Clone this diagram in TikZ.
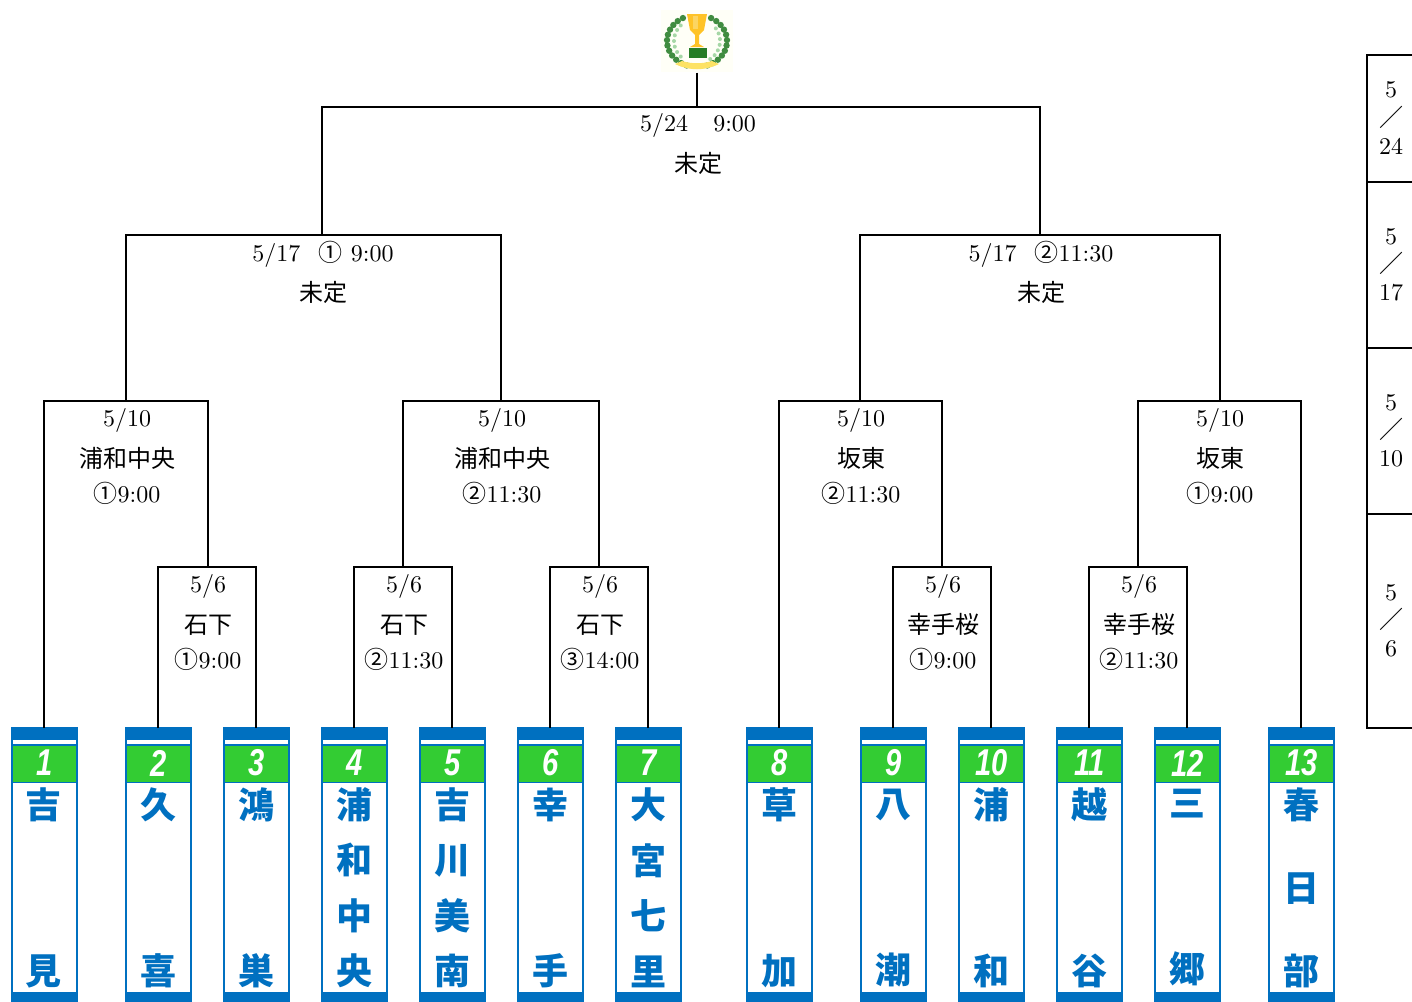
\documentclass[tikz,border=0pt]{standalone}
\usepackage{fontspec}
\usepackage{graphicx}
\newfontfamily\cjk{Noto Sans CJK JP}
\newfontfamily\cjkb{Noto Sans CJK JP}[BoldFont={Noto Sans CJK JP Black}]
\newfontfamily\numfont{Liberation Sans}
\definecolor{teamblue}{HTML}{0070C0}
\definecolor{teamgreen}{HTML}{33CC33}
\newcommand{\cjl}[1]{\raisebox{-.85pt}{\cjk #1}}
\newcommand{\teamcard}[4]{%
  \node[cardbox] (t#2) at (#1+.4,864) {};
  \fill[teamblue] (#1-33.1,727) rectangle (#1+33.9,740);
  \fill[teamblue] (#1-33.1,744) rectangle (#1+33.9,746);
  \fill[teamgreen] (#1-31.1,746) rectangle (#1+31.9,782);
  \draw[teamblue,line width=.9pt] (#1-31.6,782.5) -- (#1+32.4,782.5);
  \fill[teamblue] (#1-33.1,991.5) rectangle (#1+33.9,1001);
  \node[numlabel] (n#2) at (#1+.4,763) {\scalebox{.78}[1]{#2}};
  \node[teamname,font=\cjkb\bfseries\fontsize{27}{#4}\selectfont] (name#2) at (#1,887.6) {#3};
}
\tikzset{
  cardbox/.style={draw=teamblue,line width=1.5pt,fill=white,minimum width=65pt*.75,minimum height=273pt*.75,inner sep=0pt,outer sep=0pt},
  numlabel/.style={text=white,font=\numfont\bfseries\itshape\fontsize{28}{28}\selectfont,inner sep=0pt},
  teamname/.style={text=teamblue,align=center,inner sep=0pt},
  bracket/.style={line width=1.5pt,black},
  gamelabel/.style={align=center,inner sep=0pt,scale=1.8,font=\fontsize{10}{15.83}\selectfont},
  sidelabel/.style={align=center,inner sep=0pt,scale=1.8,font=\fontsize{10}{11.67}\selectfont},
  sideline/.style={line width=1.5pt,black},
  wreathdark/.style={fill=green!40!black!75!white},
  wreathlight/.style={fill=green!55!black!35!white}
}
\begin{document}
\begin{tikzpicture}[x=.75pt,y=-.75pt]
\useasboundingbox (0,0) rectangle (1412,1001);
% teams
\teamcard{44}{1}{吉\\見}{124.5}
\teamcard{158}{2}{久\\喜}{124.5}
\teamcard{256}{3}{鴻\\巣}{124.5}
\teamcard{354}{4}{浦\\和\\中\\央}{41.6}
\teamcard{452}{5}{吉\\川\\美\\南}{41.6}
\teamcard{550}{6}{幸\\手}{124.5}
\teamcard{648}{7}{大\\宮\\七\\里}{41.6}
\teamcard{779}{8}{草\\加}{124.5}
\teamcard{893}{9}{八\\潮}{124.5}
\teamcard{991}{10}{浦\\和}{124.5}
\teamcard{1089}{11}{越\\谷}{124.5}
\teamcard{1187}{12}{三\\郷}{124.5}
\teamcard{1301}{13}{春\\日\\部}{62.25}
% hubs
\coordinate (m1) at (208,567);
\coordinate (m2) at (403,567);
\coordinate (m3) at (599,567);
\coordinate (m4) at (942,567);
\coordinate (m5) at (1138,567);
\coordinate (q1) at (126,401);
\coordinate (q2) at (501,401);
\coordinate (q3) at (860,401);
\coordinate (q4) at (1220,401);
\coordinate (s1) at (322,235);
\coordinate (s2) at (1040,235);
\coordinate (f) at (697,107);
% trophy
\node[minimum width=54pt,minimum height=47pt,inner sep=0pt,fill=yellow!3] (trophy) at (697,41) {};
\foreach \a in {118,130,...,250}{\path[wreathdark] ({697+30*cos(\a)},{41-26*sin(\a)}) circle (3.2);}
\foreach \a in {-70,-58,...,62}{\path[wreathdark] ({697+30*cos(\a)},{41-26*sin(\a)}) circle (3.2);}
\foreach \a in {135,150,...,235}{\path[wreathlight] ({697+23*cos(\a)},{41-22*sin(\a)}) circle (2);}
\foreach \a in {-55,-40,...,45}{\path[wreathlight] ({697+23*cos(\a)},{41-22*sin(\a)}) circle (2);}
\fill[orange!55!yellow!85!white] (687,14) -- (707,14) -- (704,30) -- (699,35) -- (699,44) -- (704,47) -- (690,47) -- (695,44) -- (695,35) -- (690,30) -- cycle;
\fill[yellow!50!orange!60!white] (693,16) rectangle (698,29);
\fill[green!40!black!85!white] (689,48) rectangle (707,58);
\fill[yellow!70!orange!60!white] (675,64) .. controls (690,71) and (704,71) .. (719,64) -- (712,61) .. controls (702,64) and (692,64) .. (682,61) -- cycle;
% connectors
\draw[bracket] (t2.north) |- (m1);
\draw[bracket] (t3.north) |- (m1);
\draw[bracket] (t4.north) |- (m2);
\draw[bracket] (t5.north) |- (m2);
\draw[bracket] (t6.north) |- (m3);
\draw[bracket] (t7.north) |- (m3);
\draw[bracket] (t9.north) |- (m4);
\draw[bracket] (t10.north) |- (m4);
\draw[bracket] (t11.north) |- (m5);
\draw[bracket] (t12.north) |- (m5);
\draw[bracket] (t1.north) |- (q1);
\draw[bracket] (m1) |- (q1);
\draw[bracket] (m2) |- (q2);
\draw[bracket] (m3) |- (q2);
\draw[bracket] (t8.north) |- (q3);
\draw[bracket] (m4) |- (q3);
\draw[bracket] (m5) |- (q4);
\draw[bracket] (t13.north) |- (q4);
\draw[bracket] (q1) |- (s1);
\draw[bracket] (q2) |- (s1);
\draw[bracket] (q3) |- (s2);
\draw[bracket] (q4) |- (s2);
\draw[bracket] (s1) |- (f);
\draw[bracket] (s2) |- (f);
\draw[bracket] (trophy.south) -- (f);
% game labels
\node[gamelabel] (l1) at (698,144) {5/24\hspace{1.05em}9:00\\\cjl{未定}};
\node[gamelabel] (l2) at (323,272) {5/17\hspace{.75em}{\cjk ①}\hspace{.35em}9:00\\\cjl{未定}};
\node[gamelabel] (l3) at (1041,272) {5/17\hspace{.75em}{\cjk ②}11:30\\\cjl{未定}};
\node[gamelabel] (l4) at (127,457) {5/10\\\cjl{浦和中央}\\{\cjk ①}9:00};
\node[gamelabel] (l5) at (502,457) {5/10\\\cjl{浦和中央}\\{\cjk ②}11:30};
\node[gamelabel] (l6) at (861,457) {5/10\\\cjl{坂東}\\{\cjk ②}11:30};
\node[gamelabel] (l7) at (1220,457) {5/10\\\cjl{坂東}\\{\cjk ①}9:00};
\node[gamelabel] (l8) at (208,623) {5/6\\\cjl{石下}\\{\cjk ①}9:00};
\node[gamelabel] (l9) at (404,623) {5/6\\\cjl{石下}\\{\cjk ②}11:30};
\node[gamelabel] (l10) at (600,623) {5/6\\\cjl{石下}\\{\cjk ③}14:00};
\node[gamelabel] (l11) at (943,623) {5/6\\\cjl{幸手桜}\\{\cjk ①}9:00};
\node[gamelabel] (l12) at (1139,623) {5/6\\\cjl{幸手桜}\\{\cjk ②}11:30};
% side table
\coordinate (sa) at (1367,55);
\coordinate (sb) at (1367,182);
\coordinate (sc) at (1367,348);
\coordinate (sd) at (1367,514);
\coordinate (se) at (1367,728);
\coordinate (ra) at (1412,55);
\coordinate (rb) at (1412,182);
\coordinate (rc) at (1412,348);
\coordinate (rd) at (1412,514);
\coordinate (re) at (1412,728);
\draw[sideline] (ra) -- (sa) -- (se) -- (re);
\draw[sideline] (sb) -- (rb);
\draw[sideline] (sc) -- (rc);
\draw[sideline] (sd) -- (rd);
\node[sidelabel] (d1) at (1391,118) {5\\{\cjk ／}\\24};
\node[sidelabel] (d2) at (1391,265) {5\\{\cjk ／}\\17};
\node[sidelabel] (d3) at (1391,431) {5\\{\cjk ／}\\10};
\node[sidelabel] (d4) at (1391,621) {5\\{\cjk ／}\\6};
\end{tikzpicture}
\end{document}
